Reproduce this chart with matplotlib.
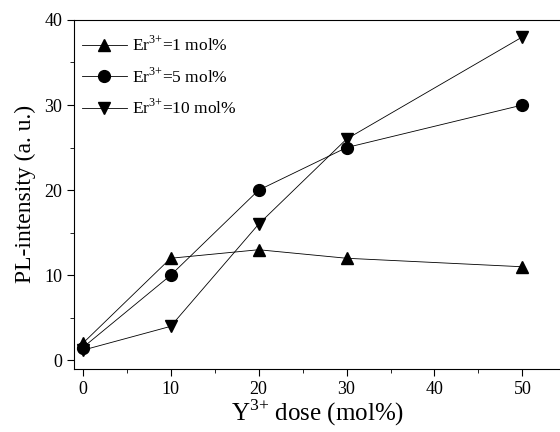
import numpy as np
import matplotlib
matplotlib.use("Agg")
import matplotlib.pyplot as plt
from matplotlib.ticker import MultipleLocator

plt.rcParams['font.family'] = ['Liberation Serif', 'DejaVu Serif']
plt.rcParams['mathtext.fontset'] = 'custom'
plt.rcParams['mathtext.rm'] = 'Liberation Serif'

dose = [0, 10, 20, 30, 50]
er1 = [2.0, 12, 13, 12, 11]
er5 = [1.5, 10, 20, 25, 30]
er10 = [1.2, 4, 16, 26, 38]
labels = [r'Er$^{3{+}}$=1 mol%', r'Er$^{3{+}}$=5 mol%', r'Er$^{3{+}}$=10 mol%']

fig = plt.figure(figsize=(5.6, 4.32), dpi=100)
ax = fig.add_axes([0.132, 0.146, 0.87, 0.808])

style = dict(color='black', lw=0.6, ms=8.5)
ax.plot(dose, er1, marker='^', label=labels[0], **style)
ax.plot(dose, er5, marker='o', label=labels[1], **style)
ax.plot(dose, er10, marker='v', label=labels[2], **style)

ax.set_xlim(-1, 54.4)
ax.set_ylim(-1, 40)
ax.xaxis.set_major_locator(MultipleLocator(10))
ax.xaxis.set_minor_locator(MultipleLocator(5))
ax.yaxis.set_major_locator(MultipleLocator(10))
ax.yaxis.set_minor_locator(MultipleLocator(5))
ax.tick_params(which='both', direction='out', labelsize=13)
ax.tick_params(which='major', length=5)
ax.tick_params(which='minor', length=3)
ax.spines['right'].set_visible(False)

ax.set_xlabel(r'Y$^{3{+}}$ dose (mol%)', fontsize=18, labelpad=0)
ax.set_ylabel('PL-intensity (a. u.)', fontsize=17, labelpad=6)

ax.legend(loc='upper left', bbox_to_anchor=(-0.005, 0.985), frameon=False,
          fontsize=12.5, handlelength=2.6, handletextpad=0.3,
          labelspacing=0.7, borderaxespad=0.2, borderpad=0.4)

fig.savefig('out.png', dpi=100)
